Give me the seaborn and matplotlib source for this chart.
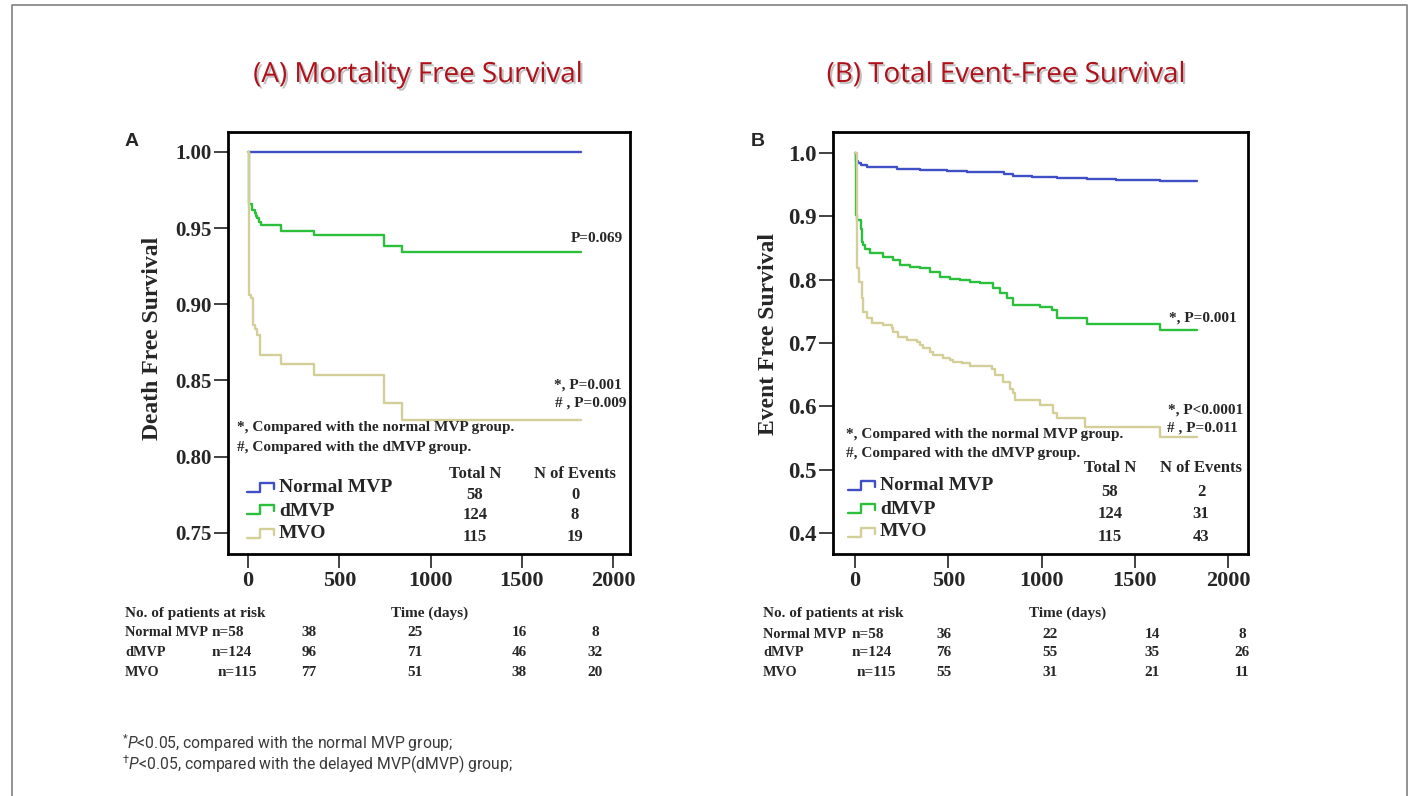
import matplotlib
matplotlib.use("Agg")
import matplotlib.pyplot as plt
import matplotlib.patheffects as pe
from matplotlib import font_manager
from matplotlib.lines import Line2D
import pandas as pd
import seaborn as sns

# ---------------------------------------------------------------- data
groups = ["Normal MVP", "dMVP", "MVO"]

# (A) mortality-free survival: Kaplan-Meier step points (days, survival)
a_normal_t = [0, 1826]
a_normal_s = [1.0, 1.0]
a_dmvp_t = [0, 7, 24, 38, 45, 51, 60, 69, 181, 364, 747, 846, 1826]
a_dmvp_s = [1.0, 0.966, 0.962, 0.960, 0.958, 0.9565, 0.954, 0.952, 0.948,
            0.9455, 0.9385, 0.9344, 0.9344]
a_mvo_t = [0, 4, 15, 29, 38, 48, 66, 181, 364, 747, 846, 1826]
a_mvo_s = [1.0, 0.906, 0.904, 0.8865, 0.884, 0.880, 0.8668, 0.8607, 0.8537,
           0.8351, 0.8241, 0.8241]

# (B) total event-free survival
b_normal_t = [0, 5, 15, 30, 63, 120, 224, 350, 492, 600, 724, 800, 849, 950,
              1081, 1242, 1400, 1635, 1832]
b_normal_s = [1.0, 0.988, 0.984, 0.981, 0.978, 0.977, 0.975, 0.973, 0.9716,
              0.970, 0.9695, 0.966, 0.9642, 0.962, 0.960, 0.9584, 0.958,
              0.9558, 0.9558]
b_dmvp_t = [0, 5, 12, 30, 36, 40, 45, 55, 80, 152, 206, 241, 295, 349, 402,
            456, 509, 563, 617, 670, 742, 778, 813, 849, 992, 1055, 1081,
            1242, 1635, 1832]
b_dmvp_s = [1.0, 0.902, 0.894, 0.88, 0.87, 0.86, 0.8547, 0.848, 0.8415,
            0.8362, 0.831, 0.823, 0.8204, 0.8178, 0.8125, 0.8046, 0.8009,
            0.7994, 0.7967, 0.794, 0.7863, 0.7794, 0.7705, 0.760, 0.7572,
            0.752, 0.7389, 0.7294, 0.7204, 0.7204]
b_mvo_t = [0, 9, 23, 36, 45, 63, 89, 152, 197, 206, 233, 277, 331, 349, 367,
           402, 420, 474, 509, 527, 572, 617, 733, 751, 795, 831, 849, 858,
           992, 1063, 1081, 1233, 1635, 1832]
b_mvo_s = [1.0, 0.8178, 0.7967, 0.7705, 0.7493, 0.7389, 0.731, 0.7283,
           0.723, 0.7177, 0.7098, 0.7046, 0.702, 0.6967, 0.6915, 0.6859,
           0.6809, 0.6757, 0.673, 0.6693, 0.6678, 0.664, 0.6597, 0.6493,
           0.6387, 0.628, 0.6204, 0.6098, 0.602, 0.5888, 0.5809, 0.5677,
           0.5518, 0.5518]

total_n = [58, 124, 115]
a_events = [0, 8, 19]
b_events = [2, 31, 43]

risk_n_labels = ["n=58", "n=124", "n=115"]
a_at_risk = [[38, 25, 16, 8], [96, 71, 46, 32], [77, 51, 38, 20]]
b_at_risk = [[36, 22, 14, 8], [76, 55, 35, 26], [55, 31, 21, 11]]

a_yticks = [0.75, 0.80, 0.85, 0.90, 0.95, 1.00]
b_yticks = [0.4, 0.5, 0.6, 0.7, 0.8, 0.9, 1.0]
xticks = [0, 500, 1000, 1500, 2000]

# ---------------------------------------------------------------- style
W, H = 1419, 796
colors = {"Normal MVP": "#3F50C6", "dMVP": "#2CBF3B", "MVO": "#D4CE98"}
TITLE_RED = "#B0101A"

sns.set_style("ticks")
plt.rcParams["font.family"] = ["Liberation Serif", "DejaVu Serif"]
plt.rcParams["font.weight"] = "bold"
plt.rcParams["mathtext.fontset"] = "custom"
plt.rcParams["mathtext.rm"] = "Roboto:normal"
plt.rcParams["mathtext.it"] = "Roboto:italic:normal"


def has_font(name):
    try:
        font_manager.findfont(name, fallback_to_default=False)
        return True
    except Exception:
        return False


if has_font("Liberation Sans Narrow"):
    title_family, title_size = "Liberation Sans Narrow", 24
else:
    title_family, title_size = "Open Sans", 20

fig = plt.figure(figsize=(W / 100, H / 100), dpi=100)


def fx(px):
    return px / W


def fy(py):
    return 1 - py / H


def put(px, py, s, **kw):
    return fig.text(fx(px), fy(py), s, **kw)


def step_icon(x0, ybot, color):
    xs = [x0, x0 + 13, x0 + 13, x0 + 27, x0 + 27]
    ys = [ybot, ybot, ybot - 9, ybot - 9, ybot - 3]
    fig.add_artist(Line2D([fx(v) for v in xs], [fy(v) for v in ys],
                          color=color, lw=1.7, transform=fig.transFigure))


panels = [
    dict(box=(228, 132, 630, 554), xlim=(-110, 2093), ylim=(0.736, 1.0131),
         yticks=a_yticks, fmt="{:.2f}", ytick_size=15, letter="A",
         letter_xy=(125, 141),
         ylabel="Death Free Survival", ylabel_xy=(152, 338),
         title="(A) Mortality Free Survival", title_xy=(418, 75),
         curves={"Normal MVP": (a_normal_t, a_normal_s),
                 "dMVP": (a_dmvp_t, a_dmvp_s),
                 "MVO": (a_mvo_t, a_mvo_s)},
         pvals=[("P=0.069", 623, 238), ("*, P=0.001", 622, 385),
                ("# , P=0.009", 626, 403)],
         note_x=237, note_y=(428, 447),
         icon_x=247, icon_bot=(492, 514, 538), lab_x=279,
         lab_y=(488, 511, 533), head_y=474, tot_x=475, ev_x=575,
         val_y=(495, 515, 537), events=a_events,
         risk_head=(125, 613), time_xy=(430, 613), risk_x=125,
         risk_nx=(212, 212, 218), risk_y=(633, 652, 672),
         risk_cols=(309, 415, 519, 595), at_risk=a_at_risk),
    dict(box=(833, 132, 1248, 554), xlim=(-118, 2107), ylim=(0.367, 1.033),
         yticks=b_yticks, fmt="{:.1f}", ytick_size=16.5, letter="B",
         letter_xy=(751, 141),
         ylabel="Event Free Survival", ylabel_xy=(769, 334),
         title="(B) Total Event-Free Survival", title_xy=(1006, 75),
         curves={"Normal MVP": (b_normal_t, b_normal_s),
                 "dMVP": (b_dmvp_t, b_dmvp_s),
                 "MVO": (b_mvo_t, b_mvo_s)},
         pvals=[("*, P=0.001", 1237, 318), ("*, P<0.0001", 1243, 410),
                ("# , P=0.011", 1238, 428)],
         note_x=846, note_y=(435, 453),
         icon_x=848, icon_bot=(490, 513, 537), lab_x=880,
         lab_y=(486, 510, 532), head_y=468, tot_x=1110, ev_x=1201,
         val_y=(492, 514, 537), events=b_events,
         risk_head=(763, 613), time_xy=(1068, 613), risk_x=763,
         risk_nx=(852, 852, 857), risk_y=(634, 653, 672),
         risk_cols=(944, 1050, 1152, 1242), at_risk=b_at_risk),
]

for p in panels:
    l, t, r, b = p["box"]
    ax = fig.add_axes([fx(l), fy(b), (r - l) / W, (b - t) / H])

    frames = [pd.DataFrame({"time": tt, "surv": ss, "group": g})
              for g, (tt, ss) in p["curves"].items()]
    df = pd.concat(frames, ignore_index=True)
    sns.lineplot(data=df, x="time", y="surv", hue="group", hue_order=groups,
                 palette=colors, estimator=None, drawstyle="steps-post",
                 linewidth=1.7, legend=False, ax=ax)

    ax.set_xlim(*p["xlim"])
    ax.set_ylim(*p["ylim"])
    ax.set_xticks(xticks)
    ax.set_xticklabels([str(v) for v in xticks], fontsize=16, fontweight="bold")
    ax.set_yticks(p["yticks"])
    ax.set_yticklabels([p["fmt"].format(v) for v in p["yticks"]],
                       fontsize=p["ytick_size"], fontweight="bold")
    ax.set_xlabel("")
    ax.set_ylabel("")
    for sp in ax.spines.values():
        sp.set_visible(True)
        sp.set_linewidth(2.0)
        sp.set_color("black")
    ax.tick_params(direction="out", length=10, width=1.3, color="#333333",
                   pad=2)

    # panel letter, axis label and heading
    put(*p["letter_xy"], p["letter"], family="Liberation Sans",
        fontsize=14, fontweight="bold", ha="left", va="center")
    put(*p["ylabel_xy"], p["ylabel"], fontsize=17, rotation=90,
        ha="center", va="center")
    put(*p["title_xy"], p["title"], family=title_family, fontsize=title_size,
        fontweight="normal", color=TITLE_RED, ha="center", va="center",
        path_effects=[pe.withSimplePatchShadow(offset=(1.5, -1.5),
                                               shadow_rgbFace="#999999",
                                               alpha=0.6)])

    # p-values and notes inside the plot
    for txt, px, py in p["pvals"]:
        put(px, py, txt, fontsize=11, ha="right", va="center")
    put(p["note_x"], p["note_y"][0], "*, Compared with the normal MVP group.",
        fontsize=11, ha="left", va="center")
    put(p["note_x"], p["note_y"][1], "#, Compared with the dMVP group.",
        fontsize=11, ha="left", va="center")

    # legend block with totals
    put(p["tot_x"], p["head_y"], "Total N", fontsize=12, ha="center",
        va="center")
    put(p["ev_x"], p["head_y"], "N of Events", fontsize=12, ha="center",
        va="center")
    for i, g in enumerate(groups):
        step_icon(p["icon_x"], p["icon_bot"][i], colors[g])
        put(p["lab_x"], p["lab_y"][i], g, fontsize=14, ha="left", va="center")
        put(p["tot_x"], p["val_y"][i], str(total_n[i]), fontsize=12,
            ha="center", va="center")
        put(p["ev_x"], p["val_y"][i], str(p["events"][i]), fontsize=12,
            ha="center", va="center")

    # numbers at risk below the axis
    put(*p["risk_head"], "No. of patients at risk", fontsize=11, ha="left",
        va="center")
    put(*p["time_xy"], "Time (days)", fontsize=11, ha="center", va="center")
    for i, g in enumerate(groups):
        put(p["risk_x"], p["risk_y"][i], g, fontsize=10.3, ha="left",
            va="center")
        put(p["risk_nx"][i], p["risk_y"][i], risk_n_labels[i], fontsize=11,
            ha="left", va="center")
        for cx, v in zip(p["risk_cols"], p["at_risk"][i]):
            put(cx, p["risk_y"][i], str(v), fontsize=11, ha="center",
                va="center")

# footnotes
foot_kw = dict(family="Roboto", fontweight="normal", fontsize=11.3,
               color="#3a3a3a", ha="left", va="center")
put(122, 743, r"$^{*}$$\mathit{P}$<0.05, compared with the normal MVP group;",
    **foot_kw)
put(122, 765,
    r"$^{\dagger}$$\mathit{P}$<0.05, compared with the delayed MVP(dMVP) group;",
    **foot_kw)

# outer frame (open at the bottom)
frame_c = "#8a8a8a"
fig.add_artist(Line2D([fx(12), fx(12), fx(1407), fx(1407)],
                      [0, fy(5), fy(5), 0], color=frame_c, lw=1.3,
                      transform=fig.transFigure))

fig.savefig("out.png", dpi=100, facecolor="white")
